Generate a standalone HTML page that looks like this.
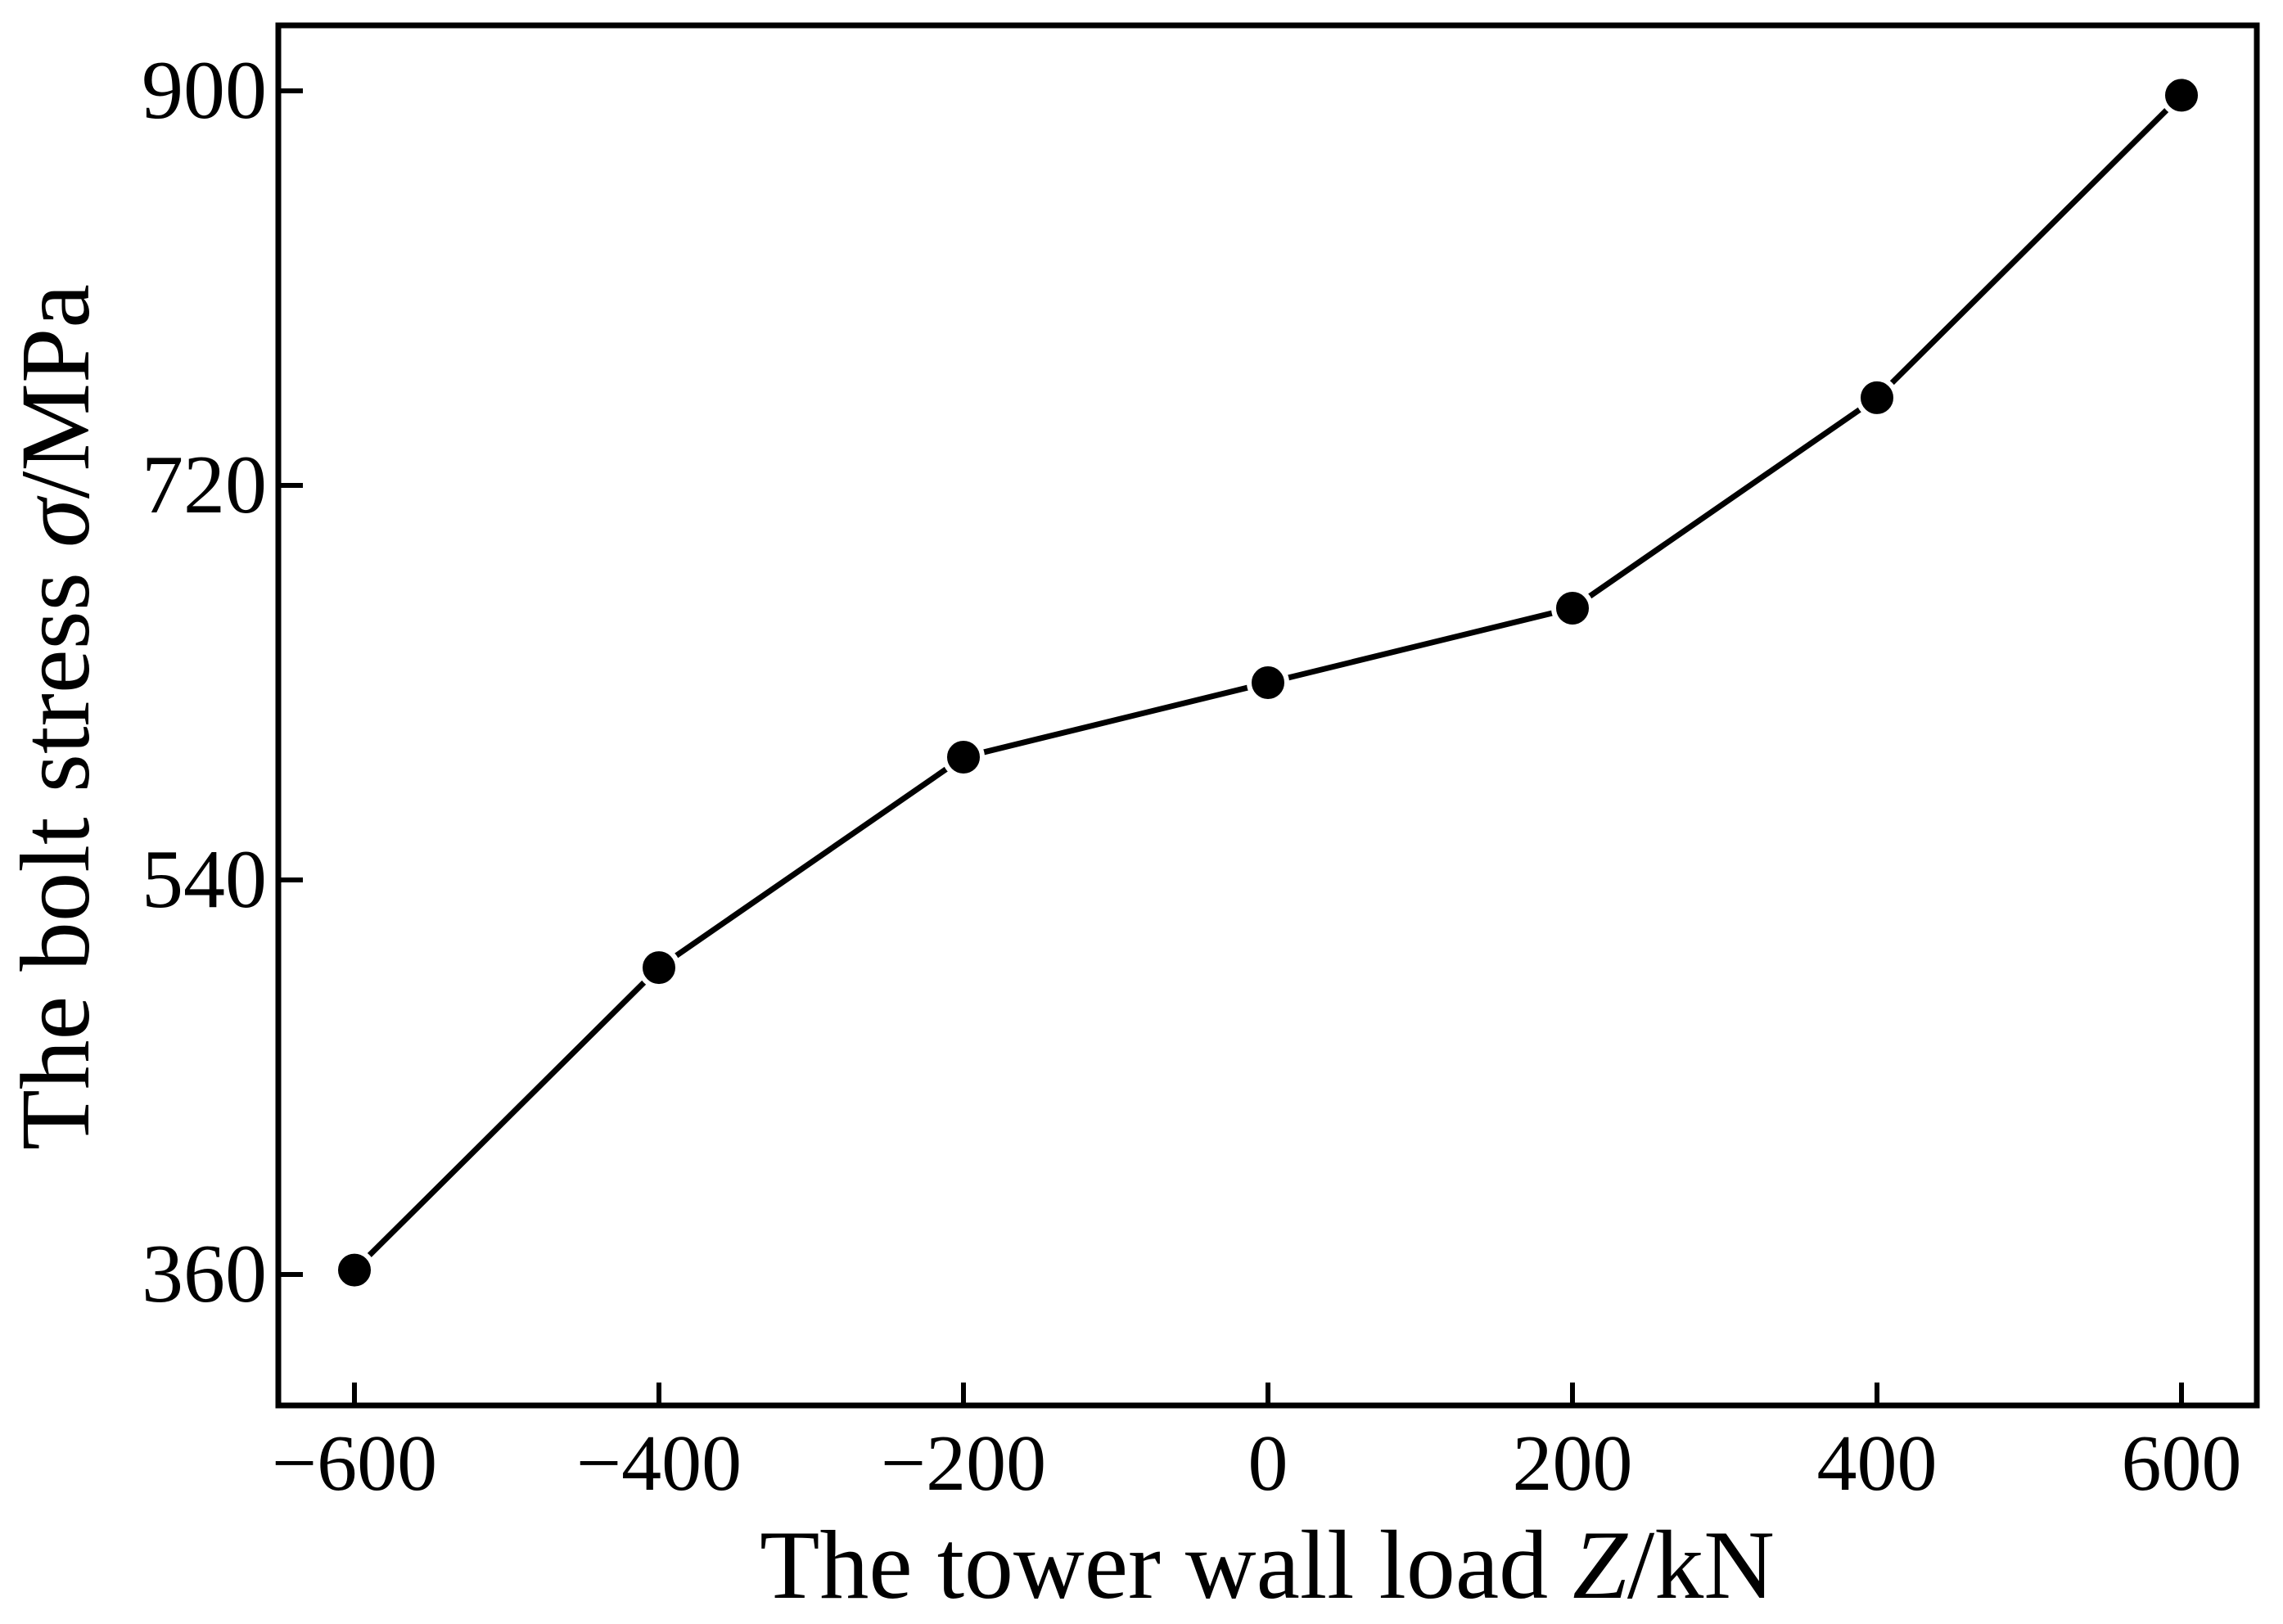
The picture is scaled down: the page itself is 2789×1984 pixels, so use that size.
<!DOCTYPE html>
<html><head><meta charset="utf-8"><style>html,body{margin:0;padding:0;background:#fff}svg{display:block}text{font-family:"Liberation Serif",serif;fill:#000}</style></head>
<body>
<svg id="chart" width="2789" height="1984" viewBox="0 0 2789 1984" xmlns="http://www.w3.org/2000/svg">
<rect x="340" y="31" width="2417" height="1686" fill="#fff" stroke="#000" stroke-width="7"/>
<g id="xticks"></g>
<g id="yticks"></g>
<g id="series"></g>
<text x="1548" y="1952" font-size="120" text-anchor="middle">The tower wall load <tspan font-style="italic">Z</tspan>/kN</text>
<text transform="translate(108,876) rotate(-90)" font-size="121" text-anchor="middle">The bolt stress <tspan font-style="italic">σ</tspan>/MPa</text>
</svg>
<script>
const loads=[-600,-400,-200,0,200,400,600];
const stress=[362,500,596,630,664,760,898];
const xTickValues=[-600,-400,-200,0,200,400,600];
const xTickLabels=['−600','−400','−200','0','200','400','600'];
const yTickValues=[360,540,720,900];
const yTickLabels=['360','540','720','900'];
const NS='http://www.w3.org/2000/svg';
function xs(v){return 433+(v+600)*(2665-433)/1200;}
function ys(v){return 1557-(v-360)*(1557-111)/540;}
function mk(tag,attrs,parent){const e=document.createElementNS(NS,tag);for(const k in attrs)e.setAttribute(k,attrs[k]);parent.appendChild(e);return e;}
const gx=document.getElementById('xticks'),gy=document.getElementById('yticks'),gs=document.getElementById('series');
xTickValues.forEach((v,i)=>{
  const t=mk('line',{x1:xs(v),x2:xs(v),y1:1717,y2:1689,stroke:'#000','stroke-width':6},gx);
  
  
  const l=mk('text',{x:xs(v),y:1820,'font-size':98,'text-anchor':'middle'},gx);
  l.textContent=xTickLabels[i];
  
  
});
yTickValues.forEach((v,i)=>{
  const t=mk('line',{x1:340,x2:370,y1:ys(v),y2:ys(v),stroke:'#000','stroke-width':6},gy);
  
  
  const l=mk('text',{x:326,y:ys(v)+33,'font-size':102,'text-anchor':'end'},gy);
  l.textContent=yTickLabels[i];
  
  
});
const pts=loads.map((v,i)=>xs(v)+','+ys(stress[i])).join(' ');
const pl=mk('polyline',{points:pts,fill:'none',stroke:'#000','stroke-width':7,'stroke-linejoin':'round','stroke-linecap':'round'},gs);


loads.forEach((v,i)=>{
  const c=mk('circle',{cx:xs(v),cy:ys(stress[i]),r:23,fill:'#000',stroke:'#fff','stroke-width':6},gs);
  
  
});
</script>
</body></html>
